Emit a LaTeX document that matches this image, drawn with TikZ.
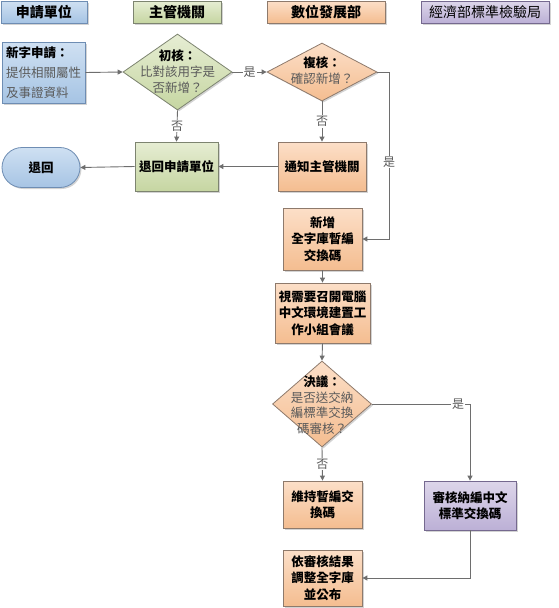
\documentclass[tikz,border=0pt]{standalone}
\usepackage{fontspec}
\newfontfamily\cjk{Noto Sans CJK TC}
\usetikzlibrary{arrows.meta,shapes.geometric,shadows}
\definecolor{bluetop}{HTML}{CFE0F2}
\definecolor{bluebot}{HTML}{A6C4E4}
\definecolor{blueline}{HTML}{6E8DB3}
\definecolor{greentop}{HTML}{E6EDD3}
\definecolor{greenbot}{HTML}{C6D6A2}
\definecolor{greenline}{HTML}{7D8470}
\definecolor{orangetop}{HTML}{FCDFC8}
\definecolor{orangebot}{HTML}{F4BD90}
\definecolor{orangeline}{HTML}{8E7A6C}
\definecolor{purpletop}{HTML}{DDD6EA}
\definecolor{purplebot}{HTML}{BCB0D6}
\definecolor{purpleline}{HTML}{75698F}
\definecolor{linegray}{HTML}{6E6E6E}
\definecolor{txtgray}{HTML}{5A5A5A}
\begin{document}
\begin{tikzpicture}[x=1pt,y=-1pt,
  base/.style={draw, line width=0.8pt, inner sep=0pt, align=center,
    font=\cjk\bfseries\fontsize{12.5}{16.5}\selectfont,
    drop shadow={shadow xshift=1.5pt, shadow yshift=-1.5pt, opacity=0.35, fill=gray}},
  bluebox/.style={base, top color=bluetop, bottom color=bluebot, draw=blueline},
  greenbox/.style={base, top color=greentop, bottom color=greenbot, draw=greenline},
  orangebox/.style={base, top color=orangetop, bottom color=orangebot, draw=orangeline},
  purplebox/.style={base, top color=purpletop, bottom color=purplebot, draw=purpleline},
  header/.style={font=\cjk\bfseries\fontsize{14}{16}\selectfont},
  dia/.style={shape=diamond, inner sep=0pt, line width=0.8pt},
  diatext/.style={align=center, inner sep=0pt, text=txtgray,
    font=\cjk\fontsize{12.5}{16}\selectfont},
  arr/.style={draw=linegray, line width=0.9pt, -{Triangle[length=5pt,width=5pt]}},
  ln/.style={draw=linegray, line width=0.9pt},
  lbl/.style={fill=white, inner sep=1pt, text=txtgray, font=\cjk\fontsize{12}{14}\selectfont}
]
\useasboundingbox (0,0) rectangle (558,608);

% headers
\node[bluebox, header, minimum width=86pt, minimum height=22pt] (h1) at (44,12) {申請單位};
\node[greenbox, header, minimum width=88pt, minimum height=22pt] (h2) at (177,12) {主管機關};
\node[orangebox, header, minimum width=118pt, minimum height=22pt] (h3) at (326,12) {數位發展部};
\node[purplebox, header, font=\cjk\fontsize{14}{16}\selectfont, minimum width=128pt, minimum height=22pt] (h4) at (485,12) {經濟部標準檢驗局};

% applicant
\node[bluebox, minimum width=83pt, minimum height=61pt, align=left, font=\cjk\fontsize{12.5}{20}\selectfont] (apply) at (43.5,72.5)
  {\textbf{新字申請：}\\\textcolor{txtgray}{提供相關屬性}\\\textcolor{txtgray}{及事證資料}};
\node[bluebox, rounded corners=20pt, minimum width=78pt, minimum height=40pt] (back) at (41,167.5) {退回};

% first check
\node[dia, greenbox, minimum width=109pt, minimum height=76pt] (d1) at (177.5,72) {};
\node[diatext] (d1t) at (177.5,72) {\textcolor{black}{\bfseries 初核：}\\比對該用字是\\否新增？};
\node[greenbox, minimum width=83pt, minimum height=49pt] (ret) at (176.5,166.5) {退回申請單位};

% second check
\node[dia, orangebox, minimum width=110pt, minimum height=58pt] (d2) at (322,72) {};
\node[diatext] (d2t) at (322,71) {\textcolor{black}{\bfseries 複核：}\\確認新增？};
\node[orangebox, minimum width=88pt, minimum height=49pt] (notify) at (322,166.5) {通知主管機關};
\node[orangebox, minimum width=79pt, minimum height=62pt] (add) at (322.5,239) {新增\\全字庫暫編\\交換碼};
\node[orangebox, minimum width=95pt, minimum height=60pt] (meet) at (322.5,313) {視需要召開電腦\\中文環境建置工\\作小組會議};
\node[dia, orangebox, minimum width=99pt, minimum height=86pt] (d3) at (322,404) {};
\node[diatext, font=\cjk\fontsize{12.5}{15.5}\selectfont] (d3t) at (322,405) {\textcolor{black}{\bfseries 決議：}\\是否送交納\\編標準交換\\碼審核？};
\node[orangebox, minimum width=79pt, minimum height=47pt] (keep) at (322.5,504.5) {維持暫編交\\換碼};
\node[orangebox, minimum width=79pt, minimum height=56pt] (publish) at (322.5,578) {依審核結果\\調整全字庫\\並公布};
\node[purplebox, minimum width=92pt, minimum height=49pt] (review) at (470,505.5) {審核納編中文\\標準交換碼};

\coordinate (c1) at (389,72);

% connectors
\draw[arr] (apply.east) -- (d1.west);
\draw[arr] (d1.east) -- node[lbl]{是} (d2.west);
\draw[arr] (d1.south) -- node[lbl]{否} (ret.north);
\draw[arr] (d2.south) -- node[lbl]{否} (notify.north);
\draw[arr] (d2.east) -- (c1) |- node[lbl, pos=0.27]{是} (add.east);
\draw[arr] (notify.west) -- (ret.east);
\draw[arr] (ret.west) -- (back.east);
\draw[arr] (add.south) -- (meet.north);
\draw[arr] (meet.south) -- (d3.north);
\draw[arr] (d3.south) -- node[lbl]{否} (keep.north);
\draw[arr] (d3.east) -| node[lbl, pos=0.44]{是} (review.north);
\draw[arr] (review.south) |- (publish.east);
\end{tikzpicture}
\end{document}
